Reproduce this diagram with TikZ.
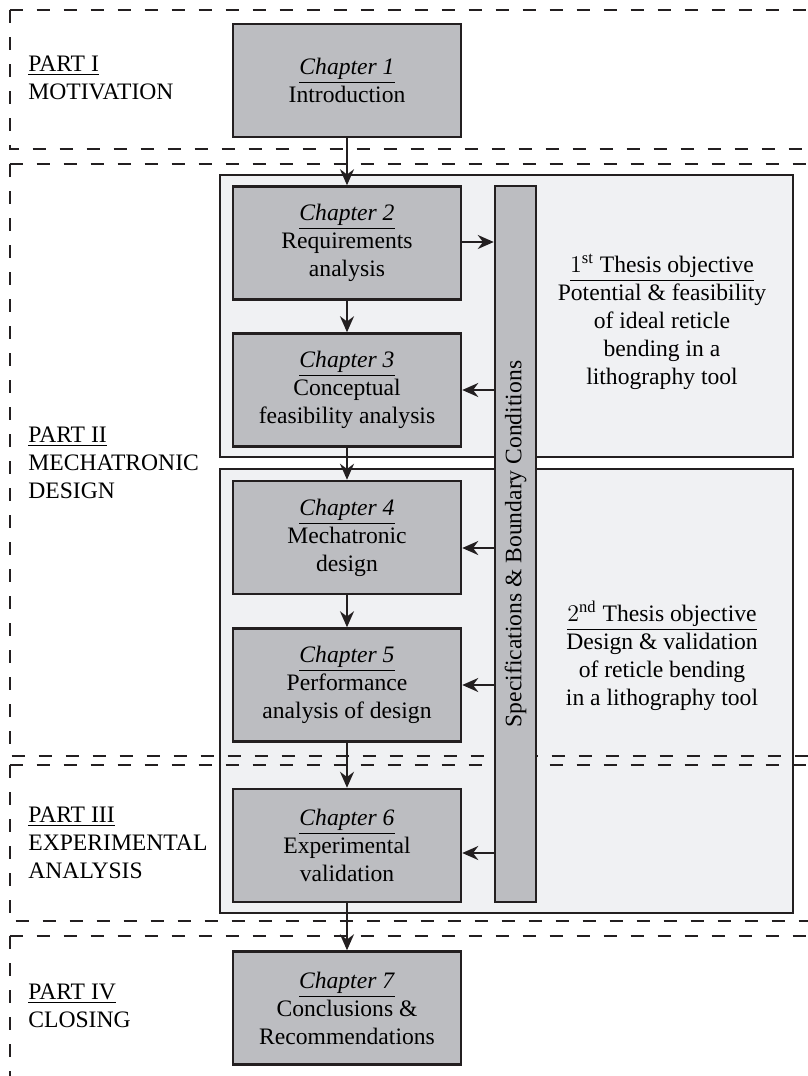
\documentclass[tikz,border=0pt]{standalone}
\usepackage{fontspec}
\setmainfont{Liberation Serif}
\usetikzlibrary{arrows.meta,positioning}

\definecolor{chapgray}{HTML}{BCBDC1}
\definecolor{objgray}{HTML}{F0F1F3}
\definecolor{linedark}{HTML}{231F20}

\begin{document}
\begin{tikzpicture}[x=0.5pt,y=-0.5pt,>={Stealth[length=8pt,width=7pt]},
        chapter/.style={draw=linedark,line width=1.25pt,fill=chapgray,minimum width=114pt,
                minimum height=56.5pt,align=center,font=\fontsize{11.8}{14}\selectfont},
        objbox/.style={draw=linedark,line width=1pt,fill=objgray},
        partbox/.style={draw=linedark,line width=1pt,dash pattern=on 6.5pt off 7pt},
        partlabel/.style={anchor=west,align=left,inner sep=0pt,font=\fontsize{11.8}{14}\selectfont},
        objtext/.style={align=center,font=\fontsize{11.8}{14}\selectfont},
        flow/.style={->,line width=1pt,draw=linedark}]
        \useasboundingbox (0,0) rectangle (808,1076);
        \clip (0,0) rectangle (808,1076);

        % draw the objective boxes
        \draw[objbox] (220,175) rectangle (793,457);
        \draw[objbox] (220,469) rectangle (793,913);

        % draw the parts
        \draw[partbox] (9.5,10) -- (830,10) (9.5,10) -- (9.5,149) -- (830,149);
        \draw[partbox] (9.5,164) -- (830,164) (9.5,164) -- (9.5,756) -- (830,756);
        \draw[partbox] (9.5,765) -- (830,765) (9.5,765) -- (9.5,921) -- (830,921);
        \draw[partbox] (9.5,936) -- (830,936) (9.5,936) -- (9.5,1100);

        \node[partlabel] (p1) at (28,78) {\underline{PART I}\\MOTIVATION};
        \node[partlabel] (p2) at (28,463) {\underline{PART II}\\MECHATRONIC\\DESIGN};
        \node[partlabel] (p3) at (28,843) {\underline{PART III}\\EXPERIMENTAL\\ANALYSIS};
        \node[partlabel] (p4) at (28,1006) {\underline{PART IV}\\CLOSING};

        % draw the chapters
        \node[chapter] (ch1) at (347,80.5) {\underline{\textit{Chapter 1}}\\Introduction};
        \node[chapter] (ch2) at (347,243) {\underline{\textit{Chapter 2}}\\Requirements\\analysis};
        \node[chapter] (ch3) at (347,390) {\underline{\textit{Chapter 3}}\\Conceptual\\feasibility analysis};
        \node[chapter] (ch4) at (347,537.5) {\underline{\textit{Chapter 4}}\\Mechatronic\\design};
        \node[chapter] (ch5) at (347,685) {\underline{\textit{Chapter 5}}\\Performance\\analysis of design};
        \node[chapter] (ch6) at (347,845.5) {\underline{\textit{Chapter 6}}\\Experimental\\validation};
        \node[chapter] (ch7) at (347,1008) {\underline{\textit{Chapter 7}}\\Conclusions \&\\Recommendations};

        \node[chapter,minimum width=20.5pt,minimum height=358pt,inner sep=0pt] (spec) at (515.5,544)
                {\rotatebox{90}{Specifications \& Boundary Conditions}};

        % objectives
        \node[objtext] (obj1) at (662,322) {\underline{$1^{\mathrm{st}}$ Thesis objective}\\Potential \& feasibility\\of ideal reticle\\bending in a\\lithography tool};
        \node[objtext] (obj2) at (662,656) {\underline{$2^{\mathrm{nd}}$ Thesis objective}\\Design \& validation\\of reticle bending\\in a lithography tool};

        % draw the arrows
        \draw[flow] (ch1) -- (ch2);
        \draw[flow] (ch2) -- (ch3);
        \draw[flow] (ch3) -- (ch4);
        \draw[flow] (ch4) -- (ch5);
        \draw[flow] (ch5) -- (ch6);
        \draw[flow] (ch6) -- (ch7);

        \coordinate (in2) at ([yshift=0.5pt]ch2.east);
        \coordinate (in4) at ([yshift=-5.25pt]ch4.east);
        \coordinate (in6) at ([yshift=-3.75pt]ch6.east);
        \draw[flow] (in2) -- (in2 -| spec.west);
        \draw[flow] (ch3.east -| spec.west) -- (ch3.east);
        \draw[flow] (in4 -| spec.west) -- (in4);
        \draw[flow] (ch5.east -| spec.west) -- (ch5.east);
        \draw[flow] (in6 -| spec.west) -- (in6);
\end{tikzpicture}
\end{document}
